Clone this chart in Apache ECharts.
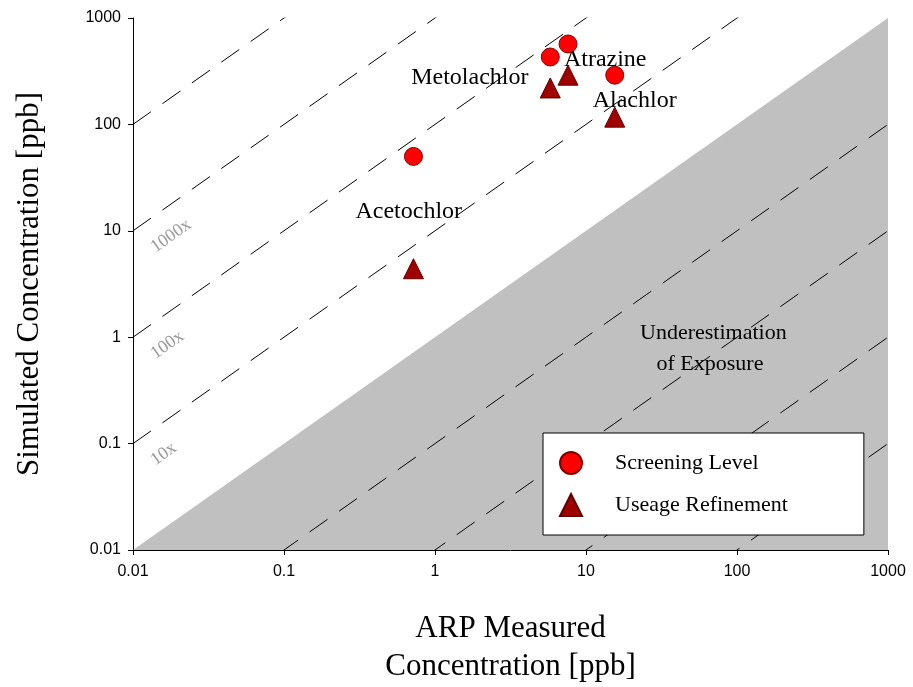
<!DOCTYPE html>
<html><head><meta charset="utf-8">
<script src="https://cdn.jsdelivr.net/npm/echarts@6/dist/echarts.min.js"></script>
<style>html,body{margin:0;padding:0;background:#fff}#c{width:913px;height:687px}</style>
</head><body><div id="c"></div>
<script>
const names = ['Acetochlor','Metolachlor','Atrazine','Alachlor'];
const measured = [0.72, 5.8, 7.6, 15.5];
const screening = [50, 430, 570, 290];
const refinement = [4.4, 220, 290, 117];
const labelPos = [[0.67,15],[1.7,273],[13.4,403],[21,166]];
const ratios = [1e-4, 1e-3, 0.01, 0.1, 10, 100, 1000, 1e4];
const ratioLabels = [[10,'10x'],[100,'100x'],[1000,'1000x']];
const serif = 'Liberation Serif';

const chart = echarts.init(document.getElementById('c'));
const lineSeries = ratios.map(r => ({
  type:'line', silent:true, symbol:'none', z:3,
  lineStyle:{color:'#000', width:1, type:[22,14]},
  data:[[0.01,0.01*r],[1000,1000*r]]
}));
const fmt = v => String(v);
chart.setOption({
  animation:false,
  grid:{left:133, right:25, top:18, bottom:137, outerBoundsMode:'none', containLabel:false},
  xAxis:{type:'log', min:0.01, max:1000, logBase:10,
    name:'ARP Measured\nConcentration [ppb]', nameLocation:'middle', nameGap:60,
    nameTextStyle:{fontFamily:serif, fontSize:31, color:'#000', lineHeight:38},
    axisLine:{lineStyle:{color:'#000'}}, axisTick:{length:5, lineStyle:{color:'#000'}},
    splitLine:{show:false},
    axisLabel:{color:'#000', fontSize:16, fontFamily:'Liberation Sans', margin:14, formatter:fmt}},
  yAxis:{type:'log', min:0.01, max:1000, logBase:10,
    name:'Simulated Concentration [ppb]', nameLocation:'middle', nameGap:88,
    nameTextStyle:{fontFamily:serif, fontSize:31, color:'#000'},
    axisLine:{lineStyle:{color:'#000'}}, axisTick:{length:5, lineStyle:{color:'#000'}},
    splitLine:{show:false},
    axisLabel:{color:'#000', fontSize:16, fontFamily:'Liberation Sans', margin:12, formatter:fmt}},
  legend:{left:543, top:433, orient:'vertical', itemGap:18, itemWidth:22, itemHeight:22, z:50,
    padding:[18,76,18,16],
    backgroundColor:'#fff', borderColor:'#000', borderWidth:1,
    textStyle:{fontFamily:serif, fontSize:22, color:'#000', padding:[0,0,0,28]},
    data:['Screening Level','Useage Refinement']},
  graphic:[
    {type:'text', left:640, top:318, z:60, style:{text:'Underestimation\n   of Exposure', font:'22px "Liberation Serif"', fill:'#000', lineHeight:31}}],
  series:[
    {type:'custom', silent:true, z:1, data:[0],
      renderItem:(p,api)=>({type:'polygon', shape:{points:[api.coord([0.01,0.01]),api.coord([1000,1000]),api.coord([1000,0.01])]}, style:{fill:'#c0c0c0'}})},
    ...lineSeries,
    {type:'custom', silent:true, z:4, data:ratioLabels,
      renderItem:(p,api)=>{const r=api.value(0); const pt=api.coord([0.0135,0.0135*r*0.5]);
        return {type:'text', x:pt[0], y:pt[1], rotation:Math.atan2(106.4,151),
          style:{text:ratioLabels[p.dataIndex][1], font:'18px "Liberation Serif"', fill:'#999', textAlign:'left', textVerticalAlign:'middle'}};}},
    {name:'Screening Level', type:'scatter', symbol:'circle', symbolSize:18, z:10,
      itemStyle:{color:'#ff0000', borderColor:'#800000', borderWidth:1, opacity:1},
      data:measured.map((m,i)=>[m,screening[i]])},
    {name:'Useage Refinement', type:'scatter', symbol:'triangle', symbolSize:20, z:10,
      itemStyle:{color:'#a00000', borderColor:'#600000', borderWidth:1, opacity:1},
      data:measured.map((m,i)=>[m,refinement[i]])},
    {type:'custom', silent:true, z:11, data:labelPos,
      renderItem:(p,api)=>{const pt=api.coord([api.value(0),api.value(1)]);
        return {type:'text', x:pt[0], y:pt[1],
          style:{text:names[p.dataIndex], font:'24px "Liberation Serif"', fill:'#000', textAlign:'center', textVerticalAlign:'middle'}};}}
  ]
});
</script></body></html>
